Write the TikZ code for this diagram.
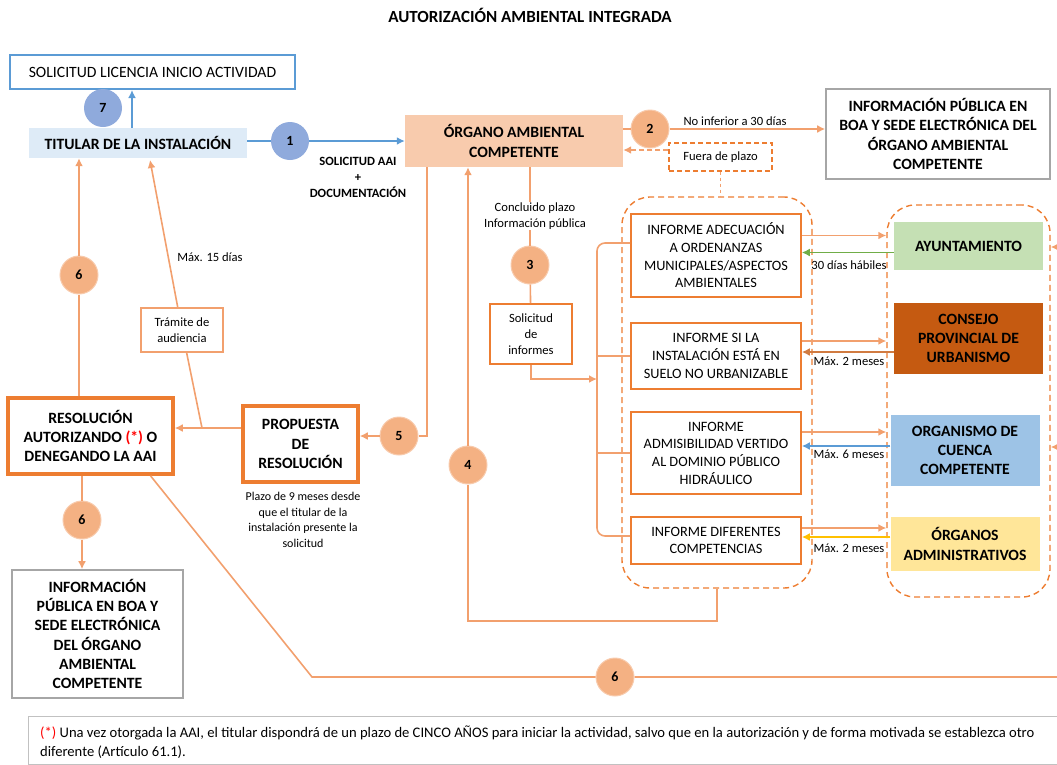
\documentclass[tikz,border=0pt]{standalone}
\usepackage{fontspec}
\setmainfont{Carlito}
\usepackage{tikz}
\usetikzlibrary{shapes,arrows.meta}

\definecolor{naranja}{HTML}{ED7D31}
\definecolor{naranjal}{HTML}{F2A06E}
\definecolor{naranjac}{HTML}{F4B183}
\definecolor{melocoton}{HTML}{F8CBAD}
\definecolor{azul}{HTML}{5B9BD5}
\definecolor{azulc}{HTML}{8FAADC}
\definecolor{azulfondo}{HTML}{DEEBF7}
\definecolor{verde}{HTML}{C5E0B4}
\definecolor{verdeosc}{HTML}{70AD47}
\definecolor{marron}{HTML}{C55A11}
\definecolor{celeste}{HTML}{9DC3E6}
\definecolor{amarillo}{HTML}{FFE699}
\definecolor{oro}{HTML}{FFC000}
\definecolor{gris}{HTML}{A6A6A6}

\newcommand{\fgrande}{\fontsize{15.7}{19.3}\selectfont}
\newcommand{\fmedio}{\fontsize{14.3}{17.7}\selectfont}
\newcommand{\fchico}{\fontsize{12.6}{16}\selectfont}

\tikzstyle{linea} = [draw=naranjal, line width=1.6pt]
\tikzstyle{flecha} = [linea, -{Latex[length=8pt, width=8pt]}]
\tikzstyle{flechaazul} = [draw=azul, line width=1.6pt, -{Latex[length=8pt, width=8pt]}]
\tikzstyle{circulo} = [circle, minimum size=38pt, inner sep=0pt, font=\bfseries\fontsize{14}{16}\selectfont]
\tikzstyle{naranjo} = [circulo, fill=naranjac, draw=melocoton, line width=1pt]
\tikzstyle{azulado} = [circulo, fill=azulc]
\tikzstyle{caja} = [rectangle, align=center, inner sep=2pt, text=black]
\tikzstyle{informe} = [caja, draw=naranja, line width=1.6pt, fill=white, minimum width=170pt, font=\fmedio]
\tikzstyle{entidad} = [caja, minimum width=149pt, font=\fgrande\bfseries]
\tikzstyle{grupo} = [rectangle, draw=naranja, dashed, dash pattern=on 6pt off 4pt, line width=1.4pt, rounded corners=28pt]
\tikzstyle{etiqueta} = [align=center, inner sep=1pt, font=\fchico]

\begin{document}
\begin{tikzpicture}[x=1pt, y=-1pt]
        \useasboundingbox (0,0) rectangle (1057,764);

        \node (titulo) at (530,15) {\fontsize{17}{20}\selectfont\bfseries AUTORIZACIÓN AMBIENTAL INTEGRADA};

        % columna izquierda
        \node (lic) [caja, draw=azul, line width=2pt, fill=white, minimum width=285pt, minimum height=34pt, font=\fgrande] at (152.5,72) {SOLICITUD LICENCIA INICIO ACTIVIDAD};
        \node (tit) [caja, fill=azulfondo, minimum width=218pt, minimum height=30pt, font=\fgrande\bfseries] at (138,143) {TITULAR DE LA INSTALACIÓN};
        \node (c7) [azulado] at (103,108) {7};
        \node (c1) [azulado] at (290,141) {1};

        \node (org) [caja, fill=melocoton, minimum width=218pt, minimum height=52pt, font=\fgrande\bfseries] at (514,141) {ÓRGANO AMBIENTAL \\ COMPETENTE};
        \node (c2) [naranjo] at (650,129) {2};
        \node (infoB) [caja, draw=gris, line width=1.6pt, fill=white, minimum width=224pt, minimum height=90pt, font=\fgrande\bfseries] at (938,134) {INFORMACIÓN PÚBLICA EN \\ BOA Y SEDE ELECTRÓNICA DEL \\ ÓRGANO AMBIENTAL \\ COMPETENTE};
        \node (fuera) [caja, draw=naranja, dashed, dash pattern=on 5pt off 3pt, line width=1.4pt, minimum width=103pt, minimum height=28pt, font=\fchico] at (720.5,157) {Fuera de plazo};

        \draw[flechaazul] ([xshift=-6]tit.north) -- ([xshift=-6]tit.north |- lic.south);
        \draw[flechaazul] (tit.east |- c1) -- (c1) -- (c1 -| org.west);
        \node [etiqueta, font=\fchico\bfseries] at (358,177) {SOLICITUD AAI \\ + \\ DOCUMENTACIÓN};

        \draw[flecha] (org.east |- c2) -- (c2) -- (c2 -| infoB.west);
        \node [etiqueta] at (735,121) {No inferior a 30 días};
        \draw[flecha, dashed, dash pattern=on 5pt off 3pt] ([yshift=7]fuera.west) -- ([yshift=7]fuera.west -| org.east);

        % informes
        \node (grpI) [grupo, minimum width=190pt, minimum height=391pt] at (717,392.5) {};
        \node (I1) [informe, minimum height=83pt] at (716,255.5) {INFORME ADECUACIÓN \\ A ORDENANZAS \\ MUNICIPALES/ASPECTOS \\ AMBIENTALES};
        \node (I2) [informe, minimum height=66pt] at (716,356) {INFORME SI LA \\ INSTALACIÓN ESTÁ EN \\ SUELO NO URBANIZABLE};
        \node (I3) [informe, minimum height=82pt] at (716,453) {INFORME \\ ADMISIBILIDAD VERTIDO \\ AL DOMINIO PÚBLICO \\ HIDRÁULICO};
        \node (I4) [informe, minimum height=47pt] at (716,540.5) {INFORME DIFERENTES \\ COMPETENCIAS};
        \draw[linea, dashed, dash pattern=on 3pt off 3pt] (fuera.south) -- (fuera.south |- grpI.north);

        % organismos
        \node (grpE) [grupo, minimum width=163pt, minimum height=392pt] at (968.5,401) {};
        \node (ayto) [entidad, fill=verde, minimum height=48pt] at (968.5,246) {AYUNTAMIENTO};
        \node (cpu) [entidad, fill=marron, minimum height=71pt] at (968.5,338.5) {CONSEJO \\ PROVINCIAL DE \\ URBANISMO};
        \node (cuenca) [entidad, fill=celeste, minimum height=71pt] at (965,450.5) {ORGANISMO DE \\ CUENCA \\ COMPETENTE};
        \node (admin) [entidad, fill=amarillo, minimum height=54pt] at (965,544) {ÓRGANOS \\ ADMINISTRATIVOS};

        \draw[flecha] ([yshift=20]I1.east) -- ([yshift=20]I1.east -| grpE.west);
        \draw[flecha, draw=verdeosc] ([yshift=3]I1.east -| ayto.west) -- ([yshift=3]I1.east);
        \node [etiqueta] at (849,265) {30 días hábiles};
        \draw[flecha] ([yshift=15]I2.east) -- ([yshift=15]I2.east -| grpE.west);
        \draw[flecha, draw=marron!80!white] ([yshift=4]I2.east -| cpu.west) -- ([yshift=4]I2.east);
        \node [etiqueta] at (849,361) {Máx. 2 meses};
        \draw[flecha] ([yshift=21]I3.east) -- ([yshift=21]I3.east -| grpE.west);
        \draw[flecha, draw=azul] ([yshift=7]I3.east -| cuenca.west) -- ([yshift=7]I3.east);
        \node [etiqueta] at (849,454) {Máx. 6 meses};
        \draw[flecha] ([yshift=12.5]I4.east) -- ([yshift=12.5]I4.east -| grpE.west);
        \draw[flecha, draw=oro] ([yshift=3.5]I4.east -| admin.west) -- ([yshift=3.5]I4.east);
        \node [etiqueta] at (849,548) {Máx. 2 meses};

        \coordinate (e1) at (1057,247);
        \coordinate (e2) at (1057,447);
        \draw[flecha] (e1) -- (e1 -| grpE.east);
        \draw[flecha] (e2) -- (e2 -| grpE.east);

        % solicitud de informes
        \node (c3) [naranjo] at (530,265) {3};
        \node (sol) [caja, draw=naranja, line width=1.6pt, minimum width=82pt, minimum height=60pt, font=\fchico] at (531,334) {Solicitud \\ de \\ informes};
        \draw[linea] (org.south -| c3) -- (c3);
        \node [etiqueta, fill=white] at (535,216) {Concluido plazo \\ Información pública};
        \draw[linea] (c3) -- (sol);
        \coordinate (busA) at (597,243);
        \coordinate (busB) at (597,536);
        \coordinate (busIn) at (597,379);
        \draw[linea, rounded corners=8pt] ([yshift=12.5]I1.west) -- (busA) -- (busB) -- ([yshift=4.5]I4.west);
        \draw[linea] (I2.west) -- (I2.west -| busA);
        \draw[linea] (I3.west) -- (I3.west -| busA);
        \draw[flecha] (sol.south) |- (busIn);

        % retorno 4
        \node (c4) [naranjo] at (468,465) {4};
        \coordinate (ret) at (468,621);
        \draw[flecha] (grpI.south) |- (ret) -- (c4) -- (c4 |- org.south);

        % propuesta y resolucion
        \node (prop) [caja, draw=naranja, line width=3.5pt, fill=white, minimum width=115pt, minimum height=76pt, font=\fgrande\bfseries] at (300.5,444) {PROPUESTA \\ DE \\ RESOLUCIÓN};
        \node (c5) [naranjo] at (399,436) {5};
        \coordinate (o5) at (427,167);
        \draw[flecha] (o5) |- (c5) -- (c5 -| prop.east);
        \node [etiqueta, font=\fontsize{12}{15.5}\selectfont] at (303,520) {Plazo de 9 meses desde \\ que el titular de la \\ instalación presente la \\ solicitud};

        \node (res) [caja, draw=naranja, line width=3.5pt, fill=white, minimum width=165pt, minimum height=76pt, font=\fgrande\bfseries] at (90.5,436) {RESOLUCIÓN \\ AUTORIZANDO {\color{red}(*)} O \\ DENEGANDO LA AAI};
        \node (tram) [caja, draw=naranjal, line width=1.6pt, minimum width=82pt, minimum height=44pt, font=\fchico] at (182,330) {Trámite de \\ audiencia};
        \coordinate (jn) at (202,428);
        \coordinate (t6) at (150,160);
        \draw[flecha] (prop.west |- jn) -- (res.east |- jn);
        \draw[flecha] (jn) -- (tram) -- (t6);
        \node [etiqueta] at (210,257) {Máx. 15 días};

        \node (c6a) [naranjo] at (79,275) {6};
        \draw[flecha] (res.north -| c6a) -- (c6a) -- (c6a |- tit.south);

        \node (infoL) [caja, draw=gris, line width=1.6pt, minimum width=171pt, minimum height=128pt, font=\fgrande\bfseries] at (97.5,634) {INFORMACIÓN \\ PÚBLICA EN BOA Y \\ SEDE ELECTRÓNICA \\ DEL ÓRGANO \\ AMBIENTAL \\ COMPETENTE};
        \node (c6b) [naranjo] at (82,520) {6};
        \draw[flecha] (res.south -| c6b) -- (c6b) -- (c6b |- infoL.north);

        \node (c6c) [naranjo] at (615,677) {6};
        \coordinate (dq) at (312,677);
        \coordinate (fin) at (1057,677);
        \draw[linea] ([xshift=60]res.south) -- (dq) -- (c6c) -- (fin);

        % nota
        \node (nota) [rectangle, draw=gris!70, line width=1.2pt, minimum width=1045pt, minimum height=48pt, anchor=north west] at (28,716) {};
        \node [anchor=west, align=left, font=\fontsize{14.6}{19}\selectfont, inner sep=0pt] at (40,742) {{\color{red}(*)} Una vez otorgada la AAI, el titular dispondrá de un plazo de CINCO AÑOS para iniciar la actividad, salvo que en la autorización y de forma motivada se establezca otro \\ diferente (Artículo 61.1).};

    \end{tikzpicture}
\end{document}
